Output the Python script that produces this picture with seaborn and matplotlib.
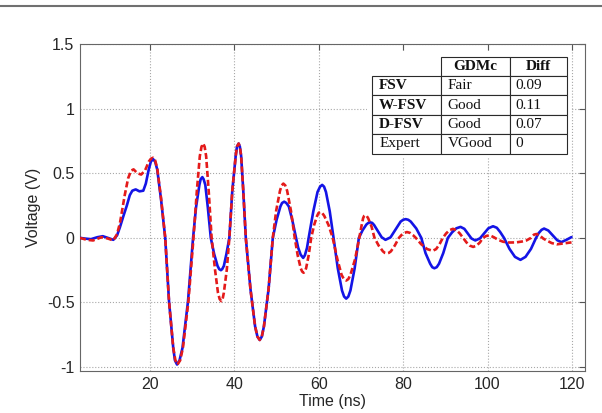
import matplotlib
matplotlib.use("Agg")
import matplotlib.pyplot as plt
from matplotlib.lines import Line2D
from matplotlib.patches import Rectangle
from matplotlib.table import Table
import seaborn as sns

# Measured transient (solid blue)
blue_time = [3.4, 4.5, 6.0, 7.5, 8.8, 10.0, 11.3, 12.2, 12.9, 13.7, 14.5, 15.2, 15.8, 16.6, 17.5, 18.4,
             19.0, 19.7, 20.2, 20.7, 21.2, 21.7, 22.6, 23.6, 24.5, 25.5, 25.9, 26.4, 27.0, 27.7, 29.0, 30.2,
             30.9, 31.7, 32.0, 32.4, 32.7, 33.1, 33.7, 34.4, 35.2, 36.0, 36.4, 36.8, 37.1, 37.5, 38.1, 38.8,
             39.5, 40.3, 40.6, 41.0, 41.3, 41.6, 42.1, 42.7, 43.8, 44.9, 45.45, 46.0, 46.5, 47.0, 48.1, 49.1,
             50.0, 50.9, 51.3, 51.8, 52.3, 52.9, 53.7, 54.6, 55.1, 55.7, 56.3, 56.7, 57.2, 57.6, 58.7, 59.7,
             60.3, 60.8, 61.25, 61.7, 62.6, 63.5, 64.5, 65.5, 66.0, 66.5, 67.0, 67.5, 68.5, 69.5, 70.4, 71.3,
             71.75, 72.2, 72.65, 73.1, 74.0, 74.9, 75.8, 77.0, 78.2, 79.4, 80.0, 80.6, 81.2, 81.8, 83.1, 84.3,
             85.3, 86.4, 86.9, 87.4, 87.95, 88.5, 89.5, 90.6, 91.6, 92.6, 93.6, 94.5, 95.35, 96.2, 97.1, 98.2,
             99.2, 100.2, 101.3, 102.2, 103.0, 103.9, 105.2, 106.5, 107.8, 109.0, 110.3, 111.5, 112.1, 112.8,
             113.4, 114.4, 115.45, 116.5, 117.5, 118.7, 119.9]
blue_volt = [0.0, -0.005, -0.01, 0.005, 0.013, 0.0, -0.015, 0.02, 0.086, 0.17, 0.25, 0.33, 0.365, 0.375, 0.36, 0.365,
             0.42, 0.53, 0.59, 0.61, 0.59, 0.53, 0.30, 0.0, -0.49, -0.85, -0.947, -0.98, -0.947, -0.85, -0.49, 0.0,
             0.235, 0.41, 0.454, 0.47, 0.454, 0.41, 0.235, 0.0, -0.125, -0.217, -0.242, -0.25, -0.242, -0.217, -0.125, 0.0,
             0.365, 0.632, 0.705, 0.73, 0.705, 0.632, 0.365, 0.0, -0.395, -0.684, -0.763, -0.79, -0.763, -0.684, -0.395, 0.0,
             0.14, 0.243, 0.27, 0.28, 0.27, 0.243, 0.14, 0.0, -0.075, -0.13, -0.155, -0.135, -0.078, 0.0, 0.205, 0.355,
             0.396, 0.41, 0.396, 0.355, 0.205, 0.0, -0.235, -0.407, -0.454, -0.47, -0.454, -0.407, -0.235, 0.0, 0.06, 0.104,
             0.116, 0.12, 0.116, 0.1, 0.0525, 0.005, -0.015, 0.004, 0.065, 0.126, 0.14, 0.145, 0.14, 0.126, 0.073, 0.0,
             -0.118, -0.2, -0.227, -0.235, -0.227, -0.2, -0.118, 0.0, 0.043, 0.074, 0.085, 0.07, 0.033, -0.005, -0.02, -0.004,
             0.035, 0.074, 0.09, 0.078, 0.045, 0.0, -0.085, -0.147, -0.17, -0.147, -0.085, 0.0, 0.036, 0.062,
             0.072, 0.057, 0.02, -0.018, -0.033, -0.015, 0.006]

# Simulated transient (dashed red)
red_time = [3.4, 5.0, 6.5, 8.5, 10.0, 11.3, 12.2, 12.9, 14.0, 14.8, 15.5, 16.1, 17.0, 17.9, 18.8, 19.7, 20.2,
            20.7, 21.2, 21.7, 22.6, 23.6, 24.5, 25.5, 26.0, 26.5, 27.15, 27.8, 29.1, 30.3, 31.1, 31.8, 32.2,
            32.6, 32.95, 33.3, 33.9, 34.6, 35.4, 36.1, 36.5, 36.9, 37.2, 37.5, 38.2, 38.8, 39.5, 40.3, 40.6,
            41.0, 41.3, 41.6, 42.1, 42.7, 43.8, 44.9, 45.45, 46.0, 46.5, 47.0, 48.1, 49.1, 49.9, 50.8, 51.2,
            51.6, 52.05, 52.5, 53.4, 54.3, 55.0, 55.7, 56.05, 56.4, 56.7, 57.0, 57.6, 58.2, 58.9, 59.6, 59.95,
            60.3, 60.8, 61.3, 62.3, 63.3, 64.4, 65.4, 65.95, 66.5, 67.0, 67.5, 68.6, 69.6, 70.1, 70.5, 70.75,
            71.0, 71.35, 71.7, 72.5, 73.2, 74.2, 75.2, 75.65, 76.1, 76.6, 77.1, 78.0, 79.0, 79.6, 80.3, 80.9,
            81.6, 82.3, 83.0, 84.3, 85.7, 87.0, 87.8, 88.6, 89.4, 90.2, 91.0, 91.8, 92.6, 93.4, 94.2, 95.0,
            95.8, 96.6, 97.4, 98.2, 98.9, 99.7, 100.5, 101.5, 102.5, 103.7, 105.2, 106.8, 108.2, 109.2, 110.3,
            111.0, 111.6, 112.3, 113.2, 114.0, 115.2, 116.4, 117.6, 118.8, 119.9]
red_volt = [0.0, -0.015, -0.02, 0.005, -0.005, -0.02, 0.03, 0.12, 0.33, 0.46, 0.52, 0.53, 0.5, 0.49, 0.52, 0.59, 0.612,
            0.62, 0.6, 0.54, 0.31, 0.0, -0.49, -0.85, -0.947, -0.98, -0.947, -0.85, -0.49, 0.0, 0.365, 0.632, 0.705,
            0.73, 0.705, 0.632, 0.365, 0.0, -0.245, -0.424, -0.473, -0.49, -0.473, -0.424, -0.245, 0.0, 0.365, 0.632, 0.705,
            0.73, 0.705, 0.632, 0.365, 0.0, -0.395, -0.684, -0.763, -0.79, -0.763, -0.684, -0.395, 0.0, 0.21, 0.364, 0.406,
            0.42, 0.406, 0.364, 0.21, 0.0, -0.135, -0.234, -0.26, -0.27, -0.26, -0.234, -0.135, 0.0, 0.1, 0.17, 0.193,
            0.2, 0.193, 0.17, 0.1, 0.0, -0.165, -0.286, -0.319, -0.33, -0.319, -0.286, -0.165, 0.0, 0.088, 0.152, 0.17,
            0.176, 0.17, 0.152, 0.088, 0.0, -0.06, -0.104, -0.116, -0.12, -0.116, -0.104, -0.06, 0.0, 0.022, 0.039, 0.045,
            0.039, 0.022, 0.0, -0.05, -0.087, -0.1, -0.087, -0.05, 0.0, 0.035, 0.06, 0.07, 0.06, 0.035, 0.0, -0.035,
            -0.06, -0.07, -0.06, -0.035, 0.0, 0.015, 0.02, 0.005, -0.015, -0.03, -0.036, -0.035, -0.028, -0.02, 0.0,
            0.025, 0.03, 0.02, -0.005, -0.02, -0.04, -0.05, -0.045, -0.04, -0.035]

# Comparison summary table
table_header = ["GDMc", "Diff"]
table_rows = ["FSV", "W-FSV", "D-FSV", "Expert"]
table_gdmc = ["Fair", "Good", "Good", "VGood"]
table_diff = ["0.09", "0.11", "0.07", "0"]
bold_rows = ["FSV", "W-FSV", "D-FSV"]

x_ticks = [20, 40, 60, 80, 100, 120]
y_ticks = [-1, -0.5, 0, 0.5, 1, 1.5]

sns.set_style("white")
plt.rcParams["font.family"] = ["Liberation Sans", "DejaVu Sans"]
plt.rcParams["axes.unicode_minus"] = False

W, H = 602, 413
fig = plt.figure(figsize=(W / 100, H / 100), dpi=100)
ax_l, ax_r, ax_t, ax_b = 80, 585, 44, 371
ax = fig.add_axes([ax_l / W, 1 - ax_b / H, (ax_r - ax_l) / W, (ax_b - ax_t) / H])

sns.lineplot(x=blue_time, y=blue_volt, ax=ax, color="#1414e6", lw=1.9,
             estimator=None, sort=False, zorder=3)
sns.lineplot(x=red_time, y=red_volt, ax=ax, color="#e41a1a", lw=1.9,
             estimator=None, sort=False, zorder=4)
ax.lines[-1].set_dashes([2.3, 1.1])

ax.set_xlim(3.4, 123.1)
ax.set_ylim(-1.03, 1.5)
ax.set_xticks(x_ticks)
ax.set_xticklabels([f"{v:g}" for v in x_ticks])
ax.set_yticks(y_ticks)
ax.set_yticklabels([f"{v:g}" for v in y_ticks])
ax.grid(True, linestyle=":", color="#a8a8a8", lw=0.8, zorder=0)
ax.set_axisbelow(True)
ax.tick_params(direction="in", top=True, right=True, length=4, width=0.8,
               color="#555555", labelcolor="#262626", labelsize=11.5, pad=4)
for s in ax.spines.values():
    s.set_color("#666666")
    s.set_linewidth(0.8)
ax.set_xlabel("Time (ns)", fontsize=11.5, labelpad=1.5, color="#262626")
ax.set_ylabel("Voltage (V)", fontsize=11.5, labelpad=4, color="#262626")


def px_to_axes(px, py):
    return (px - ax_l) / (ax_r - ax_l), (ax_b - py) / (ax_b - ax_t)


# white backing behind the table
bx0, by0 = px_to_axes(367, 158)
bx1, by1 = px_to_axes(571, 52)
ax.add_patch(Rectangle((bx0, by0), bx1 - bx0, by1 - by0, transform=ax.transAxes,
                       facecolor="white", edgecolor="none", zorder=5))

tx0, ty0 = px_to_axes(372.3, 153.5)
tx1, ty1 = px_to_axes(566.7, 56.7)
tbl = Table(ax, bbox=[tx0, ty0, tx1 - tx0, ty1 - ty0])
col_w = [68.7, 68.5, 57.2]
cells = {}
for j, name in enumerate(table_header, start=1):
    cells[(0, j)] = (name, True)
for i, name in enumerate(table_rows, start=1):
    cells[(i, 0)] = (name, name in bold_rows)
    cells[(i, 1)] = (table_gdmc[i - 1], False)
    cells[(i, 2)] = (table_diff[i - 1], False)
for (i, j), (txt, bold) in cells.items():
    c = tbl.add_cell(i, j, width=col_w[j], height=1.0, text=txt,
                     loc="center" if i == 0 else "left",
                     facecolor="white", edgecolor="#2a2a2a")
    c.set_linewidth(0.8)
    c.get_text().set_fontfamily("Liberation Serif")
    c.get_text().set_fontsize(11)
    c.get_text().set_color("#111111")
    if bold:
        c.get_text().set_fontweight("bold")
tbl.auto_set_font_size(False)
tbl.set_zorder(6)
ax.add_table(tbl)

# page rule along the top edge
fig.add_artist(Line2D([0, 1], [1 - 6 / H, 1 - 6 / H], transform=fig.transFigure,
                      color="#707070", lw=1.5))

fig.savefig("out.png", dpi=100)
